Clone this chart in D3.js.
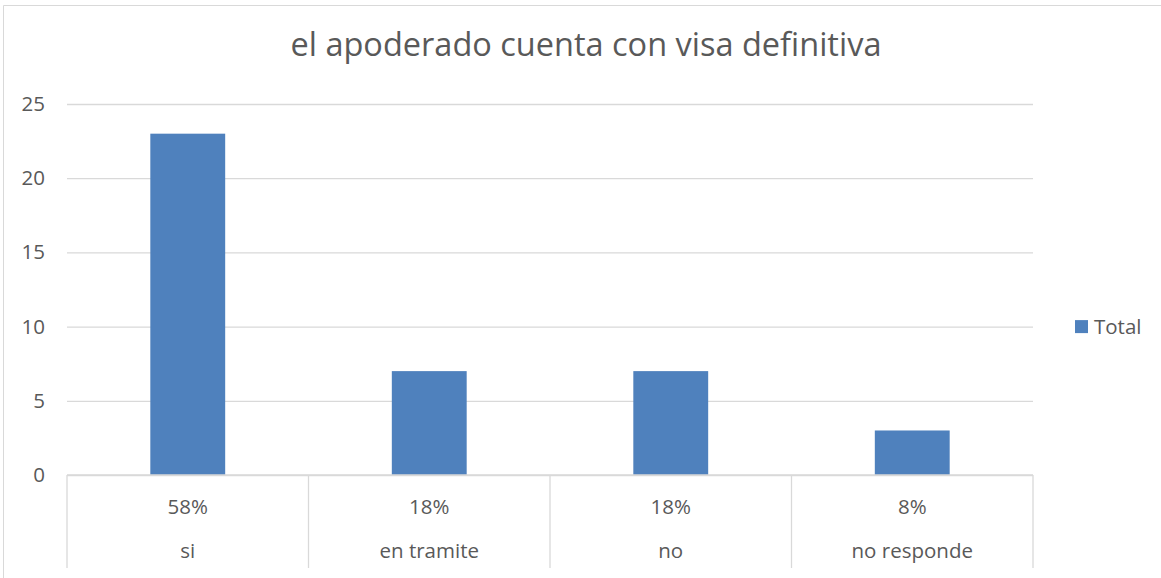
<!DOCTYPE html>
<html>
<head>
<meta charset="utf-8">
<script src="https://cdn.jsdelivr.net/npm/d3@7"></script>
<style>
  body { margin: 0; background: #fff; }
  svg { font-family: "Open Sans", sans-serif; }
</style>
</head>
<body>
<svg id="vis"></svg>
<script>
// chart values
const categories = ["si", "en tramite", "no", "no responde"]
const totals = [23, 7, 7, 3]
const percentLabels = ["58%", "18%", "18%", "8%"]
const yTicks = [0, 5, 10, 15, 20, 25]
const seriesName = "Total"
const title = "el apoderado cuenta con visa definitiva"

const width = 1161, height = 578
const margin = {top: 104, right: 128, bottom: 103, left: 67}
const textColor = "#595959", gridColor = "#d9d9d9", barColor = "#4f81bd"
const labelSize = "20.5px"

const svg = d3.select("#vis")
  .attr("width", width)
  .attr("height", height)

// outer frame (chart is cropped at right and bottom)
svg.append("path")
  .attr("d", `M3.5,${height} V5.5 H${width}`)
  .attr("fill", "none")
  .attr("stroke", gridColor)
  .attr("stroke-width", 1)

const xScale = d3.scaleBand()
  .domain(categories)
  .range([margin.left, width - margin.right])
  .paddingInner(0.69)
  .paddingOuter(0.345)

const yScale = d3.scaleLinear()
  .domain([0, 25])
  .range([height - margin.bottom, margin.top])

// title
svg.append("text")
  .attr("x", 586)
  .attr("y", 56)
  .attr("text-anchor", "middle")
  .attr("fill", textColor)
  .style("font-size", "32.5px")
  .text(title)

// Y axis: gridlines + labels
const yAxis = svg.append("g")
  .attr("transform", `translate(${margin.left},0)`)
  .call(d3.axisLeft(yScale)
    .tickValues(yTicks)
    .tickSize(-(width - margin.left - margin.right))
    .tickPadding(22))
yAxis.select(".domain").remove()
yAxis.selectAll(".tick line").attr("stroke", gridColor).attr("stroke-width", 1.3)
yAxis.selectAll(".tick text")
  .attr("fill", textColor)
  .style("font-size", labelSize)
  .style("font-family", "Open Sans, sans-serif")

// bars
svg.append("g")
  .selectAll("rect")
  .data(categories)
  .join("rect")
  .attr("x", d => xScale(d))
  .attr("width", xScale.bandwidth())
  .attr("y", (d, i) => yScale(totals[i]))
  .attr("height", (d, i) => yScale(0) - yScale(totals[i]))
  .attr("fill", barColor)

// X axis with two label levels and separators
const step = xScale.step()
const x0 = margin.left
const xBottom = height - margin.bottom
const boundaries = d3.range(categories.length + 1).map(i => x0 + i * step)

svg.append("line")
  .attr("x1", x0).attr("x2", width - margin.right)
  .attr("y1", xBottom).attr("y2", xBottom)
  .attr("stroke", gridColor).attr("stroke-width", 1.3)

svg.append("g")
  .selectAll("line")
  .data(boundaries)
  .join("line")
  .attr("x1", d => d).attr("x2", d => d)
  .attr("y1", xBottom).attr("y2", 568)
  .attr("stroke", gridColor).attr("stroke-width", 1.3)

const labelX = d => xScale(d) + xScale.bandwidth() / 2

svg.append("g")
  .selectAll("text")
  .data(categories)
  .join("text")
  .attr("x", labelX)
  .attr("y", 507)
  .attr("dy", "0.35em")
  .attr("text-anchor", "middle")
  .attr("fill", textColor)
  .style("font-size", labelSize)
  .text((d, i) => percentLabels[i])

svg.append("g")
  .selectAll("text")
  .data(categories)
  .join("text")
  .attr("x", labelX)
  .attr("y", 551)
  .attr("dy", "0.35em")
  .attr("text-anchor", "middle")
  .attr("fill", textColor)
  .style("font-size", labelSize)
  .text(d => d)

// legend
const legend = svg.append("g")
  .attr("transform", `translate(1075,${yScale(10)})`)
legend.append("rect")
  .attr("x", 0).attr("y", -6.5)
  .attr("width", 13).attr("height", 13)
  .attr("fill", barColor)
legend.append("text")
  .attr("x", 19)
  .attr("y", 0)
  .attr("dy", "0.35em")
  .attr("fill", textColor)
  .style("font-size", labelSize)
  .text(seriesName)
</script>
</body>
</html>
